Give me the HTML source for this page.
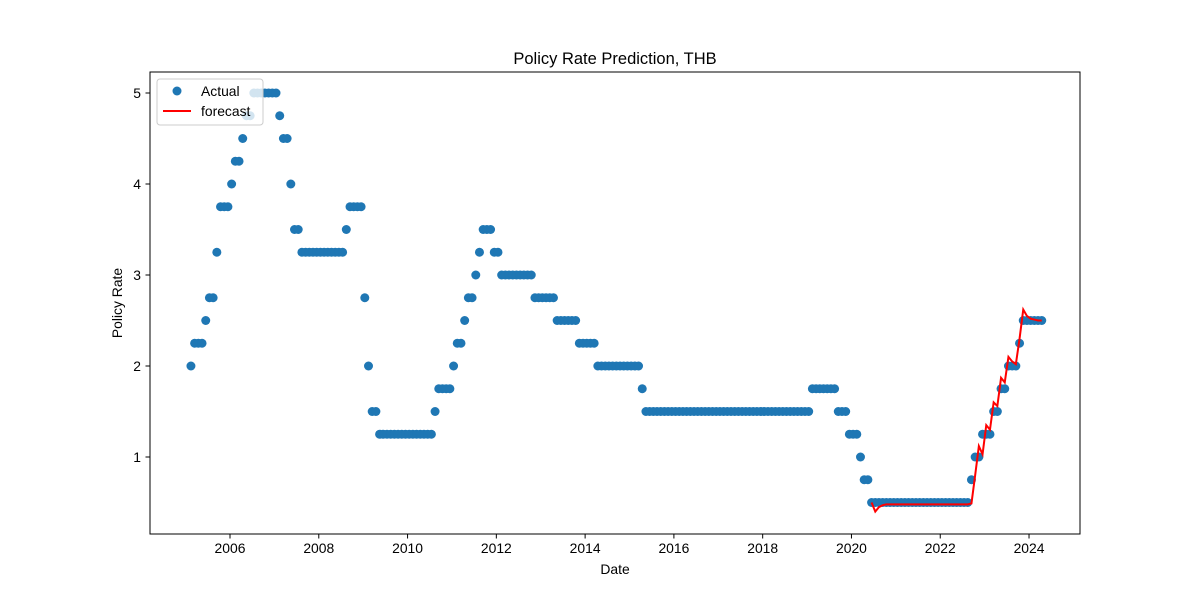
<!DOCTYPE html>
<html><head><meta charset="utf-8"><style>
body{margin:0;background:#fff;}
svg{display:block;font-family:"Liberation Sans","DejaVu Sans",sans-serif;}
</style></head><body>
<svg id="chart" width="1200" height="600" xmlns="http://www.w3.org/2000/svg">
<rect width="1200" height="600" fill="#fff"/>
<text x="615" y="64" font-size="16.5" text-anchor="middle">Policy Rate Prediction, THB</text>
<g id="xticks"></g>
<g id="yticks"></g>
<g id="points"></g>
<g id="fc"></g>
<rect x="150" y="72" width="930" height="462" fill="none" stroke="#000" stroke-width="1"/>
<text x="615" y="574" font-size="13.9" text-anchor="middle">Date</text>
<text transform="translate(122,303) rotate(-90)" font-size="13.9" text-anchor="middle">Policy Rate</text>
<g>
<rect x="157" y="79" width="106" height="46" rx="3" fill="#fff" fill-opacity="0.8" stroke="#ccc"/>
<circle cx="177" cy="91" r="4.5" fill="#1f77b4"/>
<text x="201" y="96" font-size="13.9">Actual</text>
<line x1="163" y1="111" x2="191" y2="111" stroke="red" stroke-width="2"/>
<text x="201" y="116" font-size="13.9">forecast</text>
</g>
</svg>
<script>
const startYear = 2005.12;
const actualValues = [2.0,2.25,2.25,2.25,2.5,2.75,2.75,3.25,3.75,3.75,3.75,4.0,4.25,4.25,4.5,4.75,4.75,
5,5,5,5,5,5,5,4.75,4.5,4.5,4.0,3.5,3.5,
3.25,3.25,3.25,3.25,3.25,3.25,3.25,3.25,3.25,3.25,3.25,3.25,3.5,3.75,3.75,3.75,3.75,2.75,2.0,1.5,1.5,
1.25,1.25,1.25,1.25,1.25,1.25,1.25,1.25,1.25,1.25,1.25,1.25,1.25,1.25,1.25,1.5,1.75,1.75,1.75,1.75,2.0,2.25,2.25,2.5,2.75,2.75,3.0,3.25,3.5,3.5,3.5,3.25,3.25,
3,3,3,3,3,3,3,3,3,2.75,2.75,2.75,2.75,2.75,2.75,2.5,2.5,2.5,2.5,2.5,2.5,2.25,2.25,2.25,2.25,2.25,
2,2,2,2,2,2,2,2,2,2,2,2,1.75,
1.5,1.5,1.5,1.5,1.5,1.5,1.5,1.5,1.5,1.5,1.5,1.5,1.5,1.5,1.5,1.5,1.5,1.5,1.5,1.5,1.5,1.5,1.5,1.5,1.5,1.5,1.5,1.5,1.5,1.5,1.5,1.5,1.5,1.5,1.5,1.5,1.5,1.5,1.5,1.5,1.5,1.5,1.5,1.5,1.5,
1.75,1.75,1.75,1.75,1.75,1.75,1.75,1.5,1.5,1.5,1.25,1.25,1.25,1.0,0.75,0.75,
0.5,0.5,0.5,0.5,0.5,0.5,0.5,0.5,0.5,0.5,0.5,0.5,0.5,0.5,0.5,0.5,0.5,0.5,0.5,0.5,0.5,0.5,0.5,0.5,0.5,0.5,0.5,
0.75,1.0,1.0,1.25,1.25,1.25,1.5,1.5,1.75,1.75,2.0,2.0,2.0,2.25,2.5,2.5,2.5,2.5,2.5,2.5];
const forecastStartIndex = 184;
const forecastValues = [0.5,0.4,0.45,0.47,0.48,0.48,0.48,0.48,0.48,0.48,0.48,0.48,0.48,0.48,0.48,0.48,0.48,0.48,0.48,0.48,0.48,0.48,0.48,0.48,0.48,0.48,0.48,0.49,
0.8,1.12,1.03,1.35,1.3,1.6,1.56,1.87,1.82,2.1,2.05,2.02,2.3,2.62,2.55,2.52,2.51,2.5,2.5];
const xTickLabels = [2006,2008,2010,2012,2014,2016,2018,2020,2022,2024];
const yTickLabels = [1,2,3,4,5];

const NS = "http://www.w3.org/2000/svg";
const xs = y => 230 + (y - 2006) * 44.39;
const ys = v => 457 - (v - 1) * 91;
function mk(tag, attrs, parent){const e=document.createElementNS(NS,tag);for(const k in attrs)e.setAttribute(k,attrs[k]);parent.appendChild(e);return e;}

const xg=document.getElementById('xticks');
xTickLabels.forEach(t=>{
  const x=xs(t);
  const l=mk('line',{x1:x,x2:x,y1:534,y2:538.5,stroke:'#000'},xg);
  
  
  const tx=mk('text',{x:x,y:553,'font-size':13.9,'text-anchor':'middle'},xg);
  
  
  tx.textContent=t;
});
const yg=document.getElementById('yticks');
yTickLabels.forEach(t=>{
  const y=ys(t);
  const l=mk('line',{x1:145.5,x2:150,y1:y,y2:y,stroke:'#000'},yg);
  
  
  const tx=mk('text',{x:141,y:y+5,'font-size':13.9,'text-anchor':'end'},yg);
  
  
  tx.textContent=t;
});
const pg=document.getElementById('points');
actualValues.forEach((v,i)=>{
  const c=mk('circle',{cx:xs(startYear+i/12),cy:ys(v),r:4.5,fill:'#1f77b4'},pg);
  
  
});
const fg=document.getElementById('fc');
const pts=forecastValues.map((v,j)=>xs(startYear+(forecastStartIndex+j)/12).toFixed(2)+','+ys(v).toFixed(2)).join(' ');
const pl=mk('polyline',{points:pts,fill:'none',stroke:'red','stroke-width':2},fg);


</script>
</body></html>
